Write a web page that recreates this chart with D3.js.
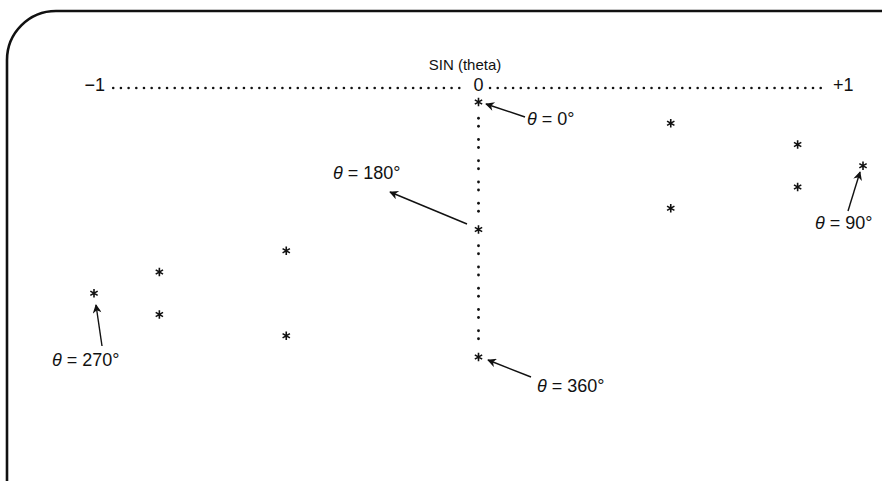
<!DOCTYPE html>
<html>
<head>
<meta charset="utf-8">
<script src="https://cdn.jsdelivr.net/npm/d3@7"></script>
<style>
  body { margin: 0; background: #fff; }
  svg { display: block; }
  text { font-family: "Liberation Sans", "DejaVu Sans", sans-serif; fill: #111; }
</style>
</head>
<body>
<svg id="chart" width="882" height="481"></svg>
<script>
// theta in degrees, one printed row per value
const thetaDeg = [0, 30, 60, 90, 120, 150, 180, 210, 240, 270, 300, 330, 360];
// SIN(theta) as plotted
const sinVals = [0, 0.5, 0.83, 1, 0.83, 0.5, 0, -0.5, -0.83, -1, -0.83, -0.5, 0];
const axisTicks = [-1, 0, 1];
const tickLabels = ["\u22121", "0", "+1"];
const axisTitle = "SIN (theta)";
const labelled = [0, 90, 180, 270, 360];

const svg = d3.select("#chart");

const x = d3.scaleLinear().domain([-1, 1]).range([94, 863]);
const y = d3.scaleLinear().domain([0, 360]).range([102, 357]);
const axisY = 88;

// rounded frame (only top and left edges show)
svg.append("path")
    .attr("d", "M7,481 V60 A49,49 0 0 1 56,11 H882")
    .attr("fill", "none")
    .attr("stroke", "#111")
    .attr("stroke-width", 2.6);

svg.append("text")
    .attr("x", 465).attr("y", 70)
    .attr("text-anchor", "middle")
    .attr("font-size", 15)
    .text(axisTitle);

// dotted axis line (printer dots)
const dotVals = d3.range(-0.95, 0.91, 0.02).filter(v => Math.abs(v) > 0.03);
svg.append("g").selectAll("circle").data(dotVals).join("circle")
    .attr("cx", d => x(d))
    .attr("cy", axisY)
    .attr("r", 1.3)
    .attr("fill", "#111");

// tick labels
svg.append("g").selectAll("text").data(axisTicks).join("text")
    .attr("x", d => d < 0 ? x(d) + 11 : d > 0 ? x(d) - 30 : x(d))
    .attr("y", axisY + 3)
    .attr("text-anchor", d => d < 0 ? "end" : d > 0 ? "start" : "middle")
    .attr("font-size", 18)
    .text((d, i) => tickLabels[i]);

// zero column colons on rows where the point is off zero
const rows = thetaDeg.map((t, i) => ({ t, v: sinVals[i] }));
const colonRows = rows.filter(r => r.v !== 0);
const colon = svg.append("g");
colonRows.forEach(r => {
    [-5, 3].forEach(dy => {
        colon.append("circle")
            .attr("cx", x(0))
            .attr("cy", y(r.t) + dy)
            .attr("r", 1.4)
            .attr("fill", "#111");
    });
});

// points
svg.append("g").selectAll("path").data(rows).join("path")
    .attr("transform", d => `translate(${x(d.v)},${y(d.t)})`)
    .attr("d", d3.symbol(d3.symbolAsterisk, 50))
    .attr("fill", "none")
    .attr("stroke", "#111")
    .attr("stroke-width", 1.6);

// arrow marker
svg.append("defs").append("marker")
    .attr("id", "head")
    .attr("viewBox", "0 0 10 10")
    .attr("refX", 9).attr("refY", 5)
    .attr("markerWidth", 12).attr("markerHeight", 9)
    .attr("markerUnits", "userSpaceOnUse")
    .attr("orient", "auto")
    .append("path")
    .attr("d", "M0,0 L10,5 L0,10 L3,5 Z")
    .attr("fill", "#111");

// annotation layout: label position, arrow start/end
const annoLayout = {
    0:   { lx: 527, ly: 125, from: [525, 117], to: [486, 104] },
    90:  { lx: 815, ly: 229, from: [848, 211], to: [860, 172] },
    180: { lx: 333, ly: 179, from: [467, 224], to: [390, 192] },
    270: { lx: 52,  ly: 366, from: [102, 346], to: [96, 305] },
    360: { lx: 537, ly: 392, from: [531, 377], to: [488, 360] }
};

const anno = svg.append("g");
labelled.forEach(t => {
    const a = annoLayout[t];
    const txt = anno.append("text")
        .attr("x", a.lx).attr("y", a.ly)
        .attr("font-size", 18);
    txt.append("tspan").attr("font-style", "italic").text("\u03b8");
    txt.append("tspan").text(" = " + t + "\u00b0");
    anno.append("line")
        .attr("x1", a.from[0]).attr("y1", a.from[1])
        .attr("x2", a.to[0]).attr("y2", a.to[1])
        .attr("stroke", "#111")
        .attr("stroke-width", 1.4)
        .attr("marker-end", "url(#head)");
});
</script>
</body>
</html>
